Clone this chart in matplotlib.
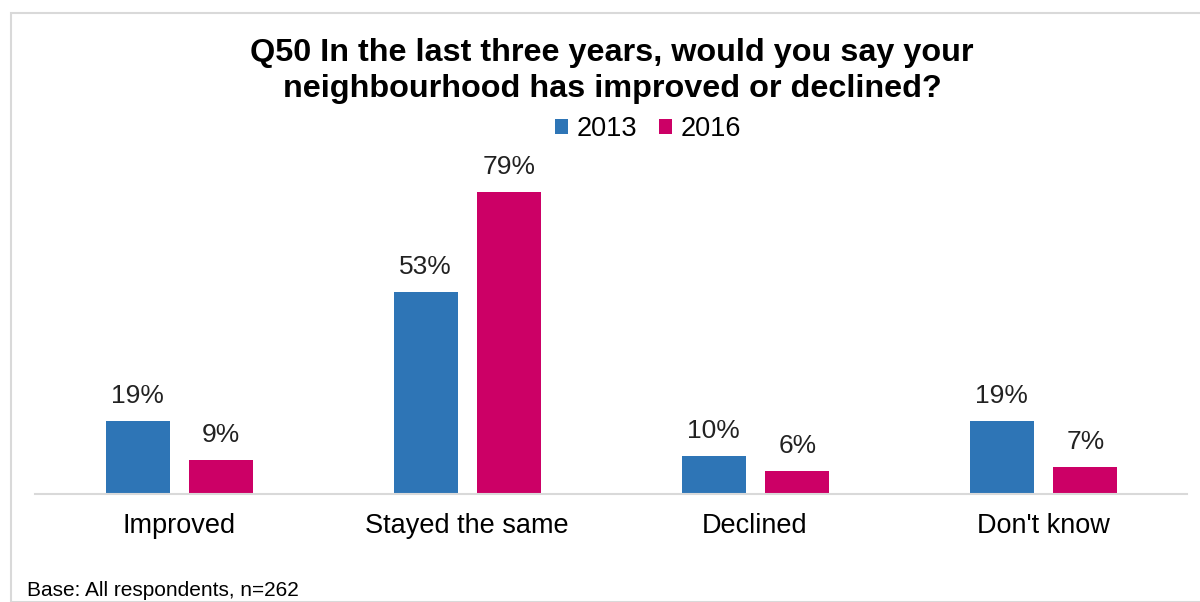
import matplotlib.pyplot as plt
from matplotlib.patches import Rectangle
import numpy as np

plt.rcParams['font.family'] = ['Liberation Sans', 'DejaVu Sans']

# 数据
categories = ['Improved', 'Stayed the same', 'Declined', "Don't know"]
values_2013 = [19, 53, 10, 19]
values_2016 = [9, 79, 6, 7]
series_names = ['2013', '2016']
colors = ['#2E75B6', '#CC0066']

fig = plt.figure(figsize=(12, 6.02), dpi=100)

# 外框
fig.patches.append(Rectangle((11 / 1200, 0), 1.1, 1 - 13 / 602, transform=fig.transFigure,
                             fill=False, edgecolor='#D9D9D9', linewidth=1.5))

ax = fig.add_axes([35 / 1200, 1 - 494 / 602, 1152 / 1200, 343.8 / 602])
x = np.arange(len(categories))
width = 0.222
b1 = ax.bar(x - 0.143, values_2013, width, color=colors[0], label=series_names[0])
b2 = ax.bar(x + 0.147, values_2016, width, color=colors[1], label=series_names[1])

for bars in (b1, b2):
    for rect in bars:
        h = rect.get_height()
        ax.text(rect.get_x() + rect.get_width() / 2, h + 4.7, f'{h:.0f}%',
                ha='center', va='baseline', fontsize=19, color='#222222')

ax.set_xlim(-0.5, 3.5)
ax.set_ylim(0, 90)
ax.set_xticks(x)
ax.set_xticklabels(categories, fontsize=19.5)
ax.tick_params(axis='x', length=0, pad=14)
ax.set_yticks([])
for s in ['top', 'right', 'left']:
    ax.spines[s].set_visible(False)
ax.spines['bottom'].set_color('#D9D9D9')
ax.spines['bottom'].set_linewidth(1.5)

fig.text(0.51, 1 - 71 / 602, 'Q50 In the last three years, would you say your\nneighbourhood has improved or declined?',
         ha='center', va='center', fontsize=23.3, fontweight='bold', linespacing=1.3)

fig.legend(handles=[b1, b2], loc='center', bbox_to_anchor=(0.54, 1 - 129 / 602), ncol=2,
           frameon=False, fontsize=19.5, handlelength=0.5, handleheight=0.5,
           handletextpad=0.3, columnspacing=0.8, borderpad=0)

fig.text(27 / 1200, 1 - 590 / 602, 'Base: All respondents, n=262', ha='left', va='center', fontsize=15)

fig.savefig('out.png', dpi=100)
